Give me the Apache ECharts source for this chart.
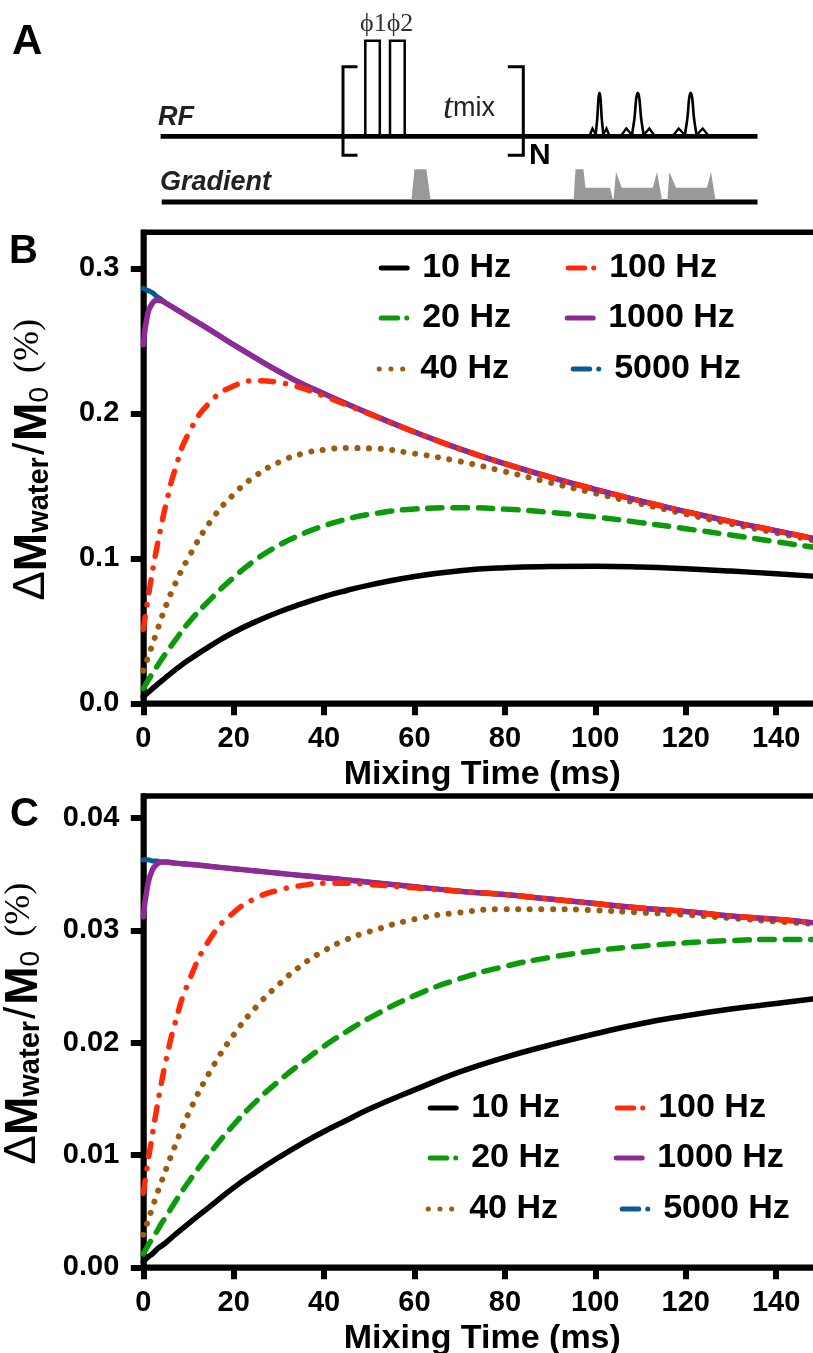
<!DOCTYPE html>
<html>
<head>
<meta charset="utf-8">
<title>Mixing time curves</title>
<script src="https://cdn.jsdelivr.net/npm/echarts@6/dist/echarts.min.js"></script>
<style>
html, body { margin: 0; padding: 0; background: #fff; overflow: hidden; }
#chart { width: 813px; height: 1353px; }
</style>
</head>
<body>
<div id="chart"></div>
<script>
// mixing time in ms, shared by every curve
var times = [0, 1, 2, 3, 4, 5, 7, 10, 15, 20, 25, 30, 35, 40, 45, 50, 60, 70, 80, 90, 100, 110, 120, 130, 140, 148];

// panel B
var b10 = [0.0046, 0.0073, 0.0100, 0.0127, 0.0153, 0.0179, 0.0229, 0.0298, 0.0400, 0.0490, 0.0565, 0.0630, 0.0685, 0.0736, 0.0778, 0.0815, 0.0875, 0.0914, 0.0935, 0.0943, 0.0945, 0.0940, 0.0928, 0.0912, 0.0893, 0.0877];
var b20 = [0.0103, 0.0155, 0.0205, 0.0253, 0.0300, 0.0345, 0.0432, 0.0555, 0.0722, 0.0868, 0.0993, 0.1090, 0.1165, 0.1225, 0.1270, 0.1303, 0.1340, 0.1349, 0.1339, 0.1316, 0.1285, 0.1246, 0.1204, 0.1160, 0.1114, 0.1078];
var b40 = [0.0225, 0.0312, 0.0404, 0.0494, 0.0587, 0.0672, 0.0820, 0.1005, 0.1260, 0.1441, 0.1572, 0.1662, 0.1720, 0.1748, 0.1760, 0.1758, 0.1722, 0.1668, 0.1598, 0.1522, 0.1448, 0.1376, 0.1305, 0.1237, 0.1175, 0.1125];
var b100 = [0.0510, 0.0715, 0.0905, 0.1075, 0.1230, 0.1370, 0.1610, 0.1860, 0.2085, 0.2188, 0.2225, 0.2212, 0.2175, 0.2118, 0.2057, 0.1995, 0.1871, 0.1755, 0.1652, 0.1560, 0.1475, 0.1396, 0.1322, 0.1253, 0.1190, 0.1138];
var b1000 = [0.2471, 0.2689, 0.2758, 0.2779, 0.2775, 0.2760, 0.2722, 0.2665, 0.2570, 0.2472, 0.2378, 0.2288, 0.2205, 0.2135, 0.2065, 0.1998, 0.1871, 0.1755, 0.1652, 0.1560, 0.1475, 0.1396, 0.1322, 0.1253, 0.1190, 0.1138];
var b5000 = [0.2862, 0.2847, 0.2832, 0.2805, 0.2785, 0.2760, 0.2722, 0.2665, 0.2570, 0.2472, 0.2378, 0.2288, 0.2205, 0.2135, 0.2065, 0.1998, 0.1871, 0.1755, 0.1652, 0.1560, 0.1475, 0.1396, 0.1322, 0.1253, 0.1190, 0.1138];

// panel C
var c10 = [0.0005, 0.0009, 0.0012, 0.0016, 0.0019, 0.0022, 0.0029, 0.0039, 0.0055, 0.0071, 0.0085, 0.0098, 0.0110, 0.0121, 0.0131, 0.0141, 0.0158, 0.0174, 0.0187, 0.0198, 0.0208, 0.0217, 0.0224, 0.0230, 0.0235, 0.0239];
var c20 = [0.0012, 0.0019, 0.0026, 0.0032, 0.0039, 0.0045, 0.0058, 0.0076, 0.0103, 0.0127, 0.0148, 0.0166, 0.0182, 0.0197, 0.0210, 0.0222, 0.0242, 0.0257, 0.0268, 0.0276, 0.0282, 0.0286, 0.0289, 0.0291, 0.0292, 0.0292];
var c40 = [0.0029, 0.0041, 0.0053, 0.0065, 0.0076, 0.0087, 0.0108, 0.0137, 0.0176, 0.0207, 0.0232, 0.0252, 0.0269, 0.0282, 0.0292, 0.0299, 0.0310, 0.0316, 0.0319, 0.0319, 0.0318, 0.0316, 0.0314, 0.0311, 0.0308, 0.0306];
var c100 = [0.0066, 0.0093, 0.0118, 0.0142, 0.0164, 0.0184, 0.0217, 0.0254, 0.0294, 0.0316, 0.0329, 0.0336, 0.0340, 0.0342, 0.0342, 0.0341, 0.0338, 0.0335, 0.0332, 0.0328, 0.0324, 0.0320, 0.0317, 0.0313, 0.0310, 0.0307];
var c1000 = [0.0312, 0.0341, 0.0354, 0.0359, 0.0361, 0.0361, 0.0360, 0.0359, 0.0357, 0.0355, 0.0353, 0.0351, 0.0349, 0.0347, 0.0345, 0.0343, 0.0339, 0.0335, 0.0332, 0.0328, 0.0324, 0.0320, 0.0317, 0.0313, 0.0310, 0.0307];
var c5000 = [0.0363, 0.0363, 0.0362, 0.0362, 0.0361, 0.0361, 0.0360, 0.0359, 0.0357, 0.0355, 0.0353, 0.0351, 0.0349, 0.0347, 0.0345, 0.0343, 0.0339, 0.0335, 0.0332, 0.0328, 0.0324, 0.0320, 0.0317, 0.0313, 0.0310, 0.0307];

var xTicks = [0, 20, 40, 60, 80, 100, 120, 140];
var bTicks = [0, 0.1, 0.2, 0.3];
var cTicks = [0, 0.01, 0.02, 0.03, 0.04];

var FONT = '"Liberation Sans", Arial, sans-serif';
var SERIF = '"Liberation Serif", serif';

// colour, dash pattern for curve, dash pattern for legend sample
var styles = {
    '10 Hz':   { color: '#000000', dash: 'solid', legendDash: 'solid', width: 5.5 },
    '20 Hz':   { color: '#0a9a0a', dash: [14.5, 10.8], legendDash: [16.5, 9, 0.1, 30], width: 5.5 },
    '40 Hz':   { color: '#9c5c10', dash: [0.1, 11.5], legendDash: [0.1, 11.6], width: 6 },
    '100 Hz':  { color: '#ff2a08', dash: [13, 12, 0.1, 12], legendDash: [16.5, 9, 0.1, 30], width: 5.5 },
    '1000 Hz': { color: '#8e2a96', dash: 'solid', legendDash: 'solid', width: 5.5 },
    '5000 Hz': { color: '#0a5a96', dash: 'solid', legendDash: [16.5, 9, 0.1, 30], width: 5 }
};

function pairs(values) {
    var out = [];
    for (var i = 0; i < times.length; i++) {
        out.push([times[i], values[i]]);
    }
    return out;
}

function makeSeries(name, values, idx) {
    var s = styles[name];
    return {
        name: name,
        type: 'line',
        xAxisIndex: idx,
        yAxisIndex: idx,
        data: pairs(values),
        smooth: 0.5,
        showSymbol: false,
        clip: false,
        silent: true,
        animation: false,
        lineStyle: { color: s.color, width: s.width, type: s.dash, cap: 'round', join: 'round' }
    };
}

// one legend per entry, the entries sit a bit irregular in the figure
var legendSpots = [
    { name: '10 Hz', x: 378, y: 270 },
    { name: '20 Hz', x: 378, y: 320 },
    { name: '40 Hz', x: 376, y: 371 },
    { name: '100 Hz', x: 565, y: 270 },
    { name: '1000 Hz', x: 564, y: 320 },
    { name: '5000 Hz', x: 570, y: 371 }
];

function makeLegends(dx, dy) {
    return legendSpots.map(function (p) {
        var s = styles[p.name];
        return {
            orient: 'horizontal',
            left: p.x + dx,
            top: p.y + dy - 19,
            padding: 0,
            itemWidth: 26,
            itemHeight: 38,
            selectedMode: false,
            textStyle: {
                fontFamily: FONT, fontWeight: 'bold', fontSize: 34, color: '#000',
                padding: [0, 0, 0, 10]
            },
            data: [{
                name: p.name,
                itemStyle: { opacity: 0 },
                lineStyle: { type: s.legendDash, width: 5, cap: 'round', color: s.color }
            }]
        };
    });
}

function makeX(gridIndex) {
    return {
        type: 'value',
        gridIndex: gridIndex,
        min: 0,
        max: 150,
        interval: 20,
        name: 'Mixing Time (ms)',
        nameLocation: 'middle',
        nameGap: 54,
        nameTextStyle: { fontFamily: FONT, fontWeight: 'bold', fontSize: 34, color: '#000' },
        splitLine: { show: false },
        axisLine: { show: true, onZero: false, lineStyle: { color: '#000', width: 5.5 } },
        axisTick: { show: true, length: 12, customValues: xTicks, lineStyle: { color: '#000', width: 6, cap: 'butt' } },
        axisLabel: {
            margin: 21, customValues: xTicks, fontFamily: FONT, fontWeight: 'bold', fontSize: 29, color: '#000'
        }
    };
}

function makeY(gridIndex, max, ticks, digits, gap) {
    return {
        type: 'value',
        gridIndex: gridIndex,
        min: 0,
        max: max,
        name: '{g|Δ}{d|M}{s|water}{h|/}{d|M}{z|0}{p|(%)}',
        nameLocation: 'middle',
        nameRotate: 90,
        nameGap: gap,
        nameTextStyle: {
            padding: [0, 0, 0, 16],
            rich: {
                g: { fontFamily: FONT, fontSize: 44, color: '#000', lineHeight: 44, verticalAlign: 'top' },
                d: { fontFamily: FONT, fontWeight: 'bold', fontSize: 46, color: '#000', lineHeight: 44, verticalAlign: 'top' },
                s: { fontFamily: FONT, fontWeight: 'bold', fontSize: 29, color: '#000', lineHeight: 30, verticalAlign: 'bottom', padding: [26, 0, 0, 0] },
                h: { fontFamily: FONT, fontSize: 44, color: '#000', lineHeight: 44, verticalAlign: 'top', padding: [0, 2, 0, 2] },
                z: { fontFamily: FONT, fontSize: 28, color: '#000', lineHeight: 30, verticalAlign: 'bottom', padding: [26, 0, 0, 0] },
                p: { fontFamily: SERIF, fontSize: 36, color: '#000', lineHeight: 44, verticalAlign: 'top', padding: [0, 0, 0, 14] }
            }
        },
        splitLine: { show: false },
        axisLine: { show: true, onZero: false, lineStyle: { color: '#000', width: 5.5 } },
        axisTick: { show: true, length: 12.5, customValues: ticks, lineStyle: { color: '#000', width: 6, cap: 'butt' } },
        axisLabel: {
            margin: 24, customValues: ticks, fontFamily: FONT, fontWeight: 'bold', fontSize: 29, color: '#000',
            formatter: function (v) { return v.toFixed(digits); }
        }
    };
}

// panel A is a pulse sequence sketch, no data behind it
function poly(points, width, smooth) {
    return {
        type: 'polyline',
        shape: { points: points, smooth: smooth || 0 },
        style: { stroke: '#000', fill: 'none', lineWidth: width, lineJoin: 'miter' },
        silent: true
    };
}
function gray(points) {
    return { type: 'polygon', shape: { points: points }, style: { fill: '#999999' }, silent: true };
}
function label(x, y, text, font, extra) {
    var st = { x: x, y: y, text: text, font: font, fill: '#000', verticalAlign: 'middle' };
    if (extra) { for (var k in extra) { st[k] = extra[k]; } }
    return { type: 'text', style: st, silent: true };
}
function pulse(c, main, side) {
    var base = 136;
    return [
        poly([[c - main, base], [c - main * 0.55, 118], [c - main * 0.25, 98], [c, 92.7], [c + main * 0.25, 98], [c + main * 0.55, 118], [c + main, base]], 2.6, 0.3),
        poly([[c - side, base], [(c - side + c - main) / 2, 128.5], [c - main + 1, base]], 2.4),
        poly([[c + main - 1, base], [(c + side + c + main) / 2, 128.5], [c + side, base]], 2.4)
    ];
}

var sketch = [
    label(12, 42, 'A', 'bold 42px ' + FONT),
    label(9, 252, 'B', 'bold 40px ' + FONT),
    label(10, 815, 'C', 'bold 40px ' + FONT),

    poly([[160.6, 136.3], [757.5, 136.3]], 4.8),
    poly([[161.7, 202], [757.5, 202]], 4.8),
    poly([[357.5, 66.7], [343, 66.7], [343, 155.3], [357.5, 155.3]], 3),
    poly([[507.8, 66.7], [523.3, 66.7], [523.3, 155.3], [507.8, 155.3]], 3),
    poly([[365.3, 136], [365.3, 40.7], [379.8, 40.7], [379.8, 136]], 2.5),
    poly([[390, 136], [390, 40.7], [404.7, 40.7], [404.7, 136]], 2.5)
].concat(pulse(599.5, 4, 10), pulse(637.8, 6, 17), pulse(690.7, 6, 18), [
    gray([[411.4, 200], [414.5, 169.3], [426.4, 169.3], [430.6, 200]]),
    gray([[573.6, 200], [575.5, 169.3], [583.4, 169.3], [585.5, 187.7], [610, 187.7], [613, 200]]),
    gray([[613.5, 200], [616, 172], [621.8, 187.7], [652.8, 187.7], [657, 172], [662, 200]]),
    gray([[667.4, 200], [669.4, 172], [676, 187.7], [707, 187.7], [711, 172], [715.5, 200]]),

    label(360, 24, 'ϕ1ϕ2', '26px ' + SERIF, { fill: '#333' }),
    {
        type: 'text',
        silent: true,
        style: {
            x: 443, y: 109, text: '{t|t}{m|mix}', verticalAlign: 'middle',
            rich: {
                t: { fontFamily: SERIF, fontStyle: 'italic', fontSize: 36, fill: '#222' },
                m: { fontFamily: FONT, fontSize: 27, fill: '#222' }
            }
        }
    },
    label(158, 118, 'RF', 'italic bold 27px ' + FONT, { fill: '#222' }),
    label(160, 183, 'Gradient', 'italic bold 27px ' + FONT, { fill: '#222' }),
    label(529, 156, 'N', 'bold 30px ' + FONT)
]);

function makeGrid(top, height) {
    return {
        show: true, borderColor: '#000', borderWidth: 5.5, backgroundColor: 'transparent',
        left: 143.3, top: top, width: 678, height: height,
        outerBoundsMode: 'none'
    };
}

var option = {
    animation: false,
    backgroundColor: '#fff',
    grid: [makeGrid(232.3, 471), makeGrid(796, 471.3)],
    xAxis: [makeX(0), makeX(1)],
    yAxis: [makeY(0, 0.3248, bTicks, 1, 89), makeY(1, 0.04198, cTicks, 2, 98)],
    legend: makeLegends(0, 0).concat(makeLegends(49, 840)),
    series: [
        makeSeries('10 Hz', b10, 0),
        makeSeries('20 Hz', b20, 0),
        makeSeries('40 Hz', b40, 0),
        makeSeries('5000 Hz', b5000, 0),
        makeSeries('1000 Hz', b1000, 0),
        makeSeries('100 Hz', b100, 0),
        makeSeries('10 Hz', c10, 1),
        makeSeries('20 Hz', c20, 1),
        makeSeries('40 Hz', c40, 1),
        makeSeries('5000 Hz', c5000, 1),
        makeSeries('1000 Hz', c1000, 1),
        makeSeries('100 Hz', c100, 1)
    ],
    graphic: { elements: sketch }
};

var mychart = echarts.init(document.getElementById('chart'), null, { renderer: 'canvas' });
mychart.setOption(option);
</script>
</body>
</html>
